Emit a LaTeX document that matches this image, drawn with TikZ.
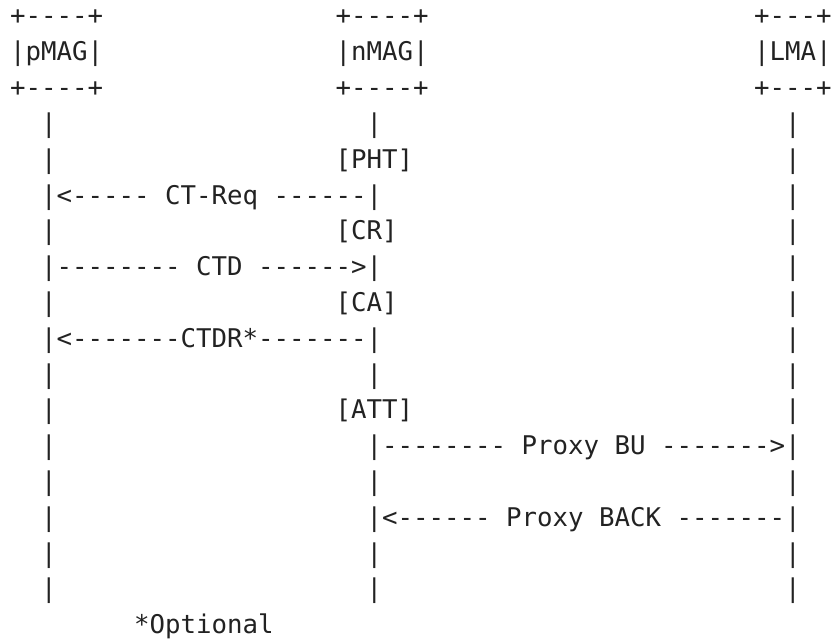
\documentclass[tikz,border=0pt]{standalone}
\usepackage{fontspec}
\setmonofont{DejaVu Sans Mono}
\definecolor{ink}{HTML}{222222}
\newcommand\frag[4]{\node[asc] (#1) at ({10.2+15.5*#2},{-(25+35.8*#3)}) {#4};}
\begin{document}
\begin{tikzpicture}[x=1pt,y=1pt,
  asc/.style={inner sep=0pt,outer sep=0pt,anchor=base west,text=ink,
    font=\ttfamily\fontsize{25.75}{35.8}\selectfont}]
\useasboundingbox (0,0) rectangle (840,-642);
% boxes
\frag{p0}{0}{0}{+----+} \frag{n0}{21}{0}{+----+} \frag{l0}{48}{0}{+---+}
\frag{p1}{0}{1}{|pMAG|} \frag{n1}{21}{1}{|nMAG|} \frag{l1}{48}{1}{|LMA|}
\frag{p2}{0}{2}{+----+} \frag{n2}{21}{2}{+----+} \frag{l2}{48}{2}{+---+}
% row 3
\frag{p3}{2}{3}{|} \frag{n3}{23}{3}{|} \frag{l3}{50}{3}{|}
% row 4
\frag{p4}{2}{4}{|} \frag{n4}{21}{4}{[PHT]} \frag{l4}{50}{4}{|}
% row 5
\frag{p5}{2}{5}{|<----- CT-Req ------|} \frag{l5}{50}{5}{|}
% row 6
\frag{p6}{2}{6}{|} \frag{n6}{21}{6}{[CR]} \frag{l6}{50}{6}{|}
% row 7
\frag{p7}{2}{7}{|-------- CTD ------>|} \frag{l7}{50}{7}{|}
% row 8
\frag{p8}{2}{8}{|} \frag{n8}{21}{8}{[CA]} \frag{l8}{50}{8}{|}
% row 9
\frag{p9}{2}{9}{|<-------CTDR*-------|} \frag{l9}{50}{9}{|}
% row 10
\frag{p10}{2}{10}{|} \frag{n10}{23}{10}{|} \frag{l10}{50}{10}{|}
% row 11
\frag{p11}{2}{11}{|} \frag{n11}{21}{11}{[ATT]} \frag{l11}{50}{11}{|}
% row 12
\frag{p12}{2}{12}{|} \frag{n12}{23}{12}{|-------- Proxy BU ------->|}
% row 13
\frag{p13}{2}{13}{|} \frag{n13}{23}{13}{|} \frag{l13}{50}{13}{|}
% row 14
\frag{p14}{2}{14}{|} \frag{n14}{23}{14}{|<------ Proxy BACK -------|}
% rows 15-16
\frag{p15}{2}{15}{|} \frag{n15}{23}{15}{|} \frag{l15}{50}{15}{|}
\frag{p16}{2}{16}{|} \frag{n16}{23}{16}{|} \frag{l16}{50}{16}{|}
% footnote
\frag{opt}{8}{17}{*Optional}
\end{tikzpicture}
\end{document}
